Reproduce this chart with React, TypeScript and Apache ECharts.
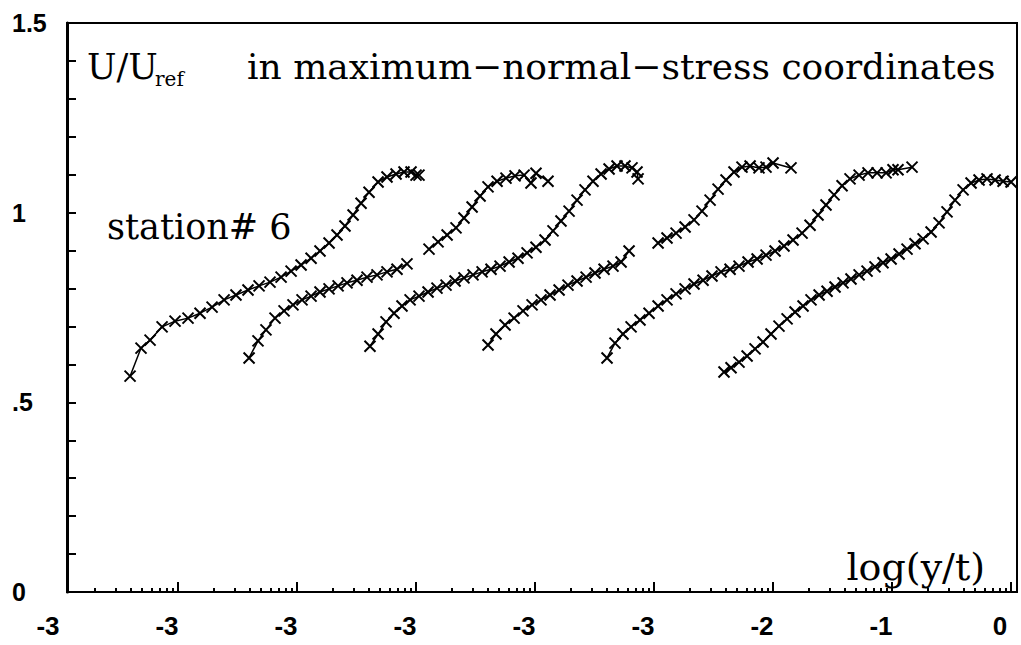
import React, { useEffect, useRef } from "react";
import * as echarts from "echarts";

// x: position in decade units along the plotted log(y/t) axis (each profile shifted), y: U/Uref
// "-" marks a break in the drawn line of a profile
type Pt = [number, number] | "-";
const profile1: Pt[] = [
  [0.597, 0.569], [0.689, 0.643], [0.765, 0.664], [0.866, 0.699], [0.975, 0.714], [1.084, 0.722],
  [1.185, 0.735], [1.286, 0.751], [1.387, 0.77], [1.487, 0.783], [1.588, 0.796], [1.681, 0.807],
  [1.773, 0.817], [1.866, 0.83], [1.95, 0.846], [2.034, 0.862], [2.118, 0.88], [2.193, 0.899],
  [2.269, 0.92], [2.336, 0.941], [2.403, 0.965], [2.471, 0.994], [2.538, 1.025], [2.605, 1.054],
  [2.681, 1.081], [2.756, 1.094], [2.832, 1.102], [2.899, 1.107], [2.958, 1.107], [3.0, 1.099],
  [3.025, 1.099],
];
const profile2: Pt[] = [
  [1.597, 0.617], [1.672, 0.662], [1.739, 0.691], [1.815, 0.722], [1.891, 0.741], [1.966, 0.757],
  [2.042, 0.77], [2.118, 0.78], [2.193, 0.791], [2.269, 0.799], [2.345, 0.807], [2.42, 0.815],
  [2.504, 0.822], [2.588, 0.83], [2.672, 0.836], [2.756, 0.844], [2.84, 0.851], [2.924, 0.865],
  "-",
  [3.109, 0.904], [3.185, 0.923], [3.261, 0.941], [3.336, 0.96], [3.403, 0.986], [3.471, 1.015],
  [3.538, 1.044], [3.605, 1.068], [3.681, 1.083], [3.756, 1.091], [3.832, 1.097], [3.908, 1.099],
  [3.966, 1.078], [4.008, 1.104], [4.109, 1.083],
];
const profile3: Pt[] = [
  [2.613, 0.648], [2.681, 0.68], [2.748, 0.712], [2.815, 0.735], [2.882, 0.754], [2.95, 0.77],
  [3.025, 0.78], [3.101, 0.791], [3.176, 0.801], [3.252, 0.809], [3.328, 0.82], [3.403, 0.828],
  [3.479, 0.836], [3.555, 0.844], [3.63, 0.851], [3.706, 0.859], [3.782, 0.87], [3.857, 0.88],
  [3.933, 0.894], [4.008, 0.909], [4.084, 0.928], [4.151, 0.952], [4.218, 0.978], [4.286, 1.004],
  [4.353, 1.033], [4.42, 1.06], [4.487, 1.083], [4.555, 1.102], [4.622, 1.115], [4.689, 1.123],
  [4.756, 1.123], [4.815, 1.118], [4.857, 1.107], [4.866, 1.089],
];
const profile4: Pt[] = [
  [3.605, 0.651], [3.672, 0.68], [3.748, 0.704], [3.824, 0.722], [3.899, 0.741], [3.975, 0.757],
  [4.05, 0.77], [4.126, 0.783], [4.202, 0.796], [4.277, 0.809], [4.353, 0.82], [4.429, 0.83],
  [4.504, 0.841], [4.58, 0.851], [4.655, 0.859], [4.723, 0.87], [4.79, 0.899],
  "-",
  [5.034, 0.92], [5.109, 0.933], [5.185, 0.946], [5.261, 0.962], [5.336, 0.981], [5.403, 1.004],
  [5.471, 1.033], [5.538, 1.062], [5.605, 1.086], [5.672, 1.107], [5.739, 1.12], [5.807, 1.123],
  [5.882, 1.118], [5.941, 1.12], [6.0, 1.131], [6.151, 1.118],
];
const profile5: Pt[] = [
  [4.605, 0.617], [4.672, 0.656], [4.739, 0.68], [4.807, 0.699], [4.882, 0.717], [4.958, 0.735],
  [5.034, 0.754], [5.109, 0.77], [5.185, 0.786], [5.261, 0.799], [5.336, 0.812], [5.412, 0.822],
  [5.487, 0.833], [5.563, 0.844], [5.639, 0.851], [5.714, 0.859], [5.79, 0.87], [5.866, 0.878],
  [5.941, 0.888], [6.017, 0.899], [6.092, 0.912], [6.168, 0.928], [6.244, 0.946], [6.311, 0.967],
  [6.378, 0.994], [6.445, 1.02], [6.513, 1.047], [6.58, 1.071], [6.647, 1.089], [6.723, 1.099],
  [6.798, 1.105], [6.874, 1.105], [6.95, 1.105], [7.008, 1.113], [7.05, 1.113], [7.168, 1.12],
];
const profile6: Pt[] = [
  [5.588, 0.58], [5.647, 0.591], [5.714, 0.606], [5.782, 0.622], [5.849, 0.641], [5.916, 0.659],
  [5.983, 0.68], [6.05, 0.701], [6.118, 0.72], [6.185, 0.738], [6.252, 0.754], [6.319, 0.77],
  [6.387, 0.783], [6.454, 0.793], [6.521, 0.804], [6.588, 0.815], [6.655, 0.825], [6.723, 0.836],
  [6.79, 0.846], [6.857, 0.857], [6.924, 0.868], [6.992, 0.878], [7.059, 0.891], [7.126, 0.904],
  [7.193, 0.918], [7.261, 0.931], [7.328, 0.949], [7.395, 0.973], [7.462, 1.002], [7.529, 1.033],
  [7.597, 1.06], [7.664, 1.078], [7.731, 1.086], [7.798, 1.089], [7.866, 1.086], [7.933, 1.083],
  [8.0, 1.081],
];
const profiles = [profile1, profile2, profile3, profile4, profile5, profile6];

// axis ticks and labels
const xTickLabels = ["-3", "-3", "-3", "-3", "-3", "-3", "-2", "-1", "0"];
const xLabelPositions = [0, 1, 2, 3, 4, 5, 6, 7, 8];
const xMajorTicks = [1, 2, 3, 4, 5, 6, 7, 8];
const xDecades = [0, 1, 2, 3, 4, 5, 6, 7];
const xMinorMultipliers = [2, 3, 4, 5, 6, 7, 8, 9];
const yTickValues = [0, 0.5, 1, 1.5];
const yTickLabels = ["0", ".5", "1", "1.5"];

const titleMain = "U/U";
const titleSub = "ref";
const titleRest = "in maximum\u2212normal\u2212stress coordinates";
const stationText = "station# 6";
const xAxisTitle = "log(y/t)";

const minorTicks: number[] = [];
xDecades.forEach((d) => xMinorMultipliers.forEach((m) => minorTicks.push(d + Math.log10(m))));

const X_MIN = 0.067;
const X_MAX = 8.05;
const LABEL_FONT = "'Liberation Sans Narrow', 'Liberation Sans', sans-serif";
const SERIF = "'DejaVu Serif', serif";

export default function App() {
  const ref = useRef<HTMLDivElement>(null);
  useEffect(() => {
    if (!ref.current) return;
    const chart = echarts.init(ref.current, undefined, { renderer: "svg" });
    const xMarker = "path://M0,0L10,10M10,0L0,10";
    chart.setOption({
      animation: false,
      backgroundColor: "#fff",
      grid: [
        { left: 67, right: 4, top: 23, bottom: 53, show: true, borderColor: "#000", borderWidth: 2 },
        { left: 30, right: 4, top: 23, bottom: 53, show: false },
      ],
      xAxis: [
        {
          type: "value", gridIndex: 0, min: X_MIN, max: X_MAX, position: "bottom",
          axisLine: { show: true, lineStyle: { color: "#000", width: 2 } },
          axisTick: { show: false }, axisLabel: { show: false }, splitLine: { show: false },
        },
        {
          type: "value", gridIndex: 0, min: X_MIN, max: X_MAX, position: "bottom",
          axisLine: { show: false },
          axisTick: { show: true, inside: true, length: 4, customValues: minorTicks, lineStyle: { color: "#000", width: 2 } },
          axisLabel: { show: false }, splitLine: { show: false },
        },
        {
          type: "value", gridIndex: 0, min: X_MIN, max: X_MAX, position: "bottom",
          axisLine: { show: false },
          axisTick: { show: true, inside: true, length: 10, customValues: xMajorTicks, lineStyle: { color: "#000", width: 2 } },
          axisLabel: { show: false }, splitLine: { show: false },
        },
        {
          type: "value", gridIndex: 1, min: -0.151, max: 8.143, position: "bottom",
          axisLine: { show: false }, axisTick: { show: false }, splitLine: { show: false },
          axisLabel: {
            show: true, customValues: xLabelPositions, margin: 21,
            color: "#000", fontFamily: LABEL_FONT, fontWeight: "bold", fontSize: 26,
            formatter: (v: number) => xTickLabels[Math.round(v)] ?? "",
          },
        },
      ],
      yAxis: [
        {
          type: "value", gridIndex: 0, min: 0, max: 1.5, interval: 0.1,
          axisLine: { show: true, lineStyle: { color: "#000", width: 3 } },
          axisTick: { show: true, inside: true, length: 9, lineStyle: { color: "#000", width: 2 } },
          splitLine: { show: false },
          axisLabel: {
            show: true, customValues: yTickValues, align: "left", margin: 55,
            color: "#000", fontFamily: LABEL_FONT, fontWeight: "bold", fontSize: 25,
            formatter: (v: number) => {
              const i = yTickValues.findIndex((t) => Math.abs(t - v) < 1e-6);
              return i >= 0 ? yTickLabels[i] : "";
            },
          },
        },
        { type: "value", gridIndex: 1, min: 0, max: 1.5, show: false },
      ],
      series: profiles.map((p, i) => ({
        name: "profile" + (i + 1),
        type: "line",
        xAxisIndex: 0,
        yAxisIndex: 0,
        data: p,
        connectNulls: false,
        symbol: xMarker,
        symbolSize: 11,
        showAllSymbol: true,
        itemStyle: { color: "rgba(0,0,0,0)", borderColor: "#000", borderWidth: 2 },
        lineStyle: { color: "#000", width: 1.5 },
        emphasis: { disabled: true },
      })),
      graphic: [
        { type: "text", left: 87, top: 49, style: { text: titleMain, fontFamily: SERIF, fontSize: 35, fill: "#000" } },
        { type: "text", left: 155, top: 69, style: { text: titleSub, fontFamily: SERIF, fontSize: 20, fill: "#000" } },
        { type: "text", left: 247, top: 48, style: { text: titleRest, fontFamily: SERIF, fontSize: 36, fill: "#000" } },
        { type: "text", left: 107, top: 209, style: { text: stationText, fontFamily: SERIF, fontSize: 35, fill: "#000" } },
        { type: "text", right: 36, top: 548, style: { text: xAxisTitle, fontFamily: SERIF, fontSize: 38, fill: "#000" } },
      ],
    });
    return () => chart.dispose();
  }, []);
  return <div ref={ref} style={{ position: "absolute", left: 0, top: 0, width: 1021, height: 645 }} />;
}
